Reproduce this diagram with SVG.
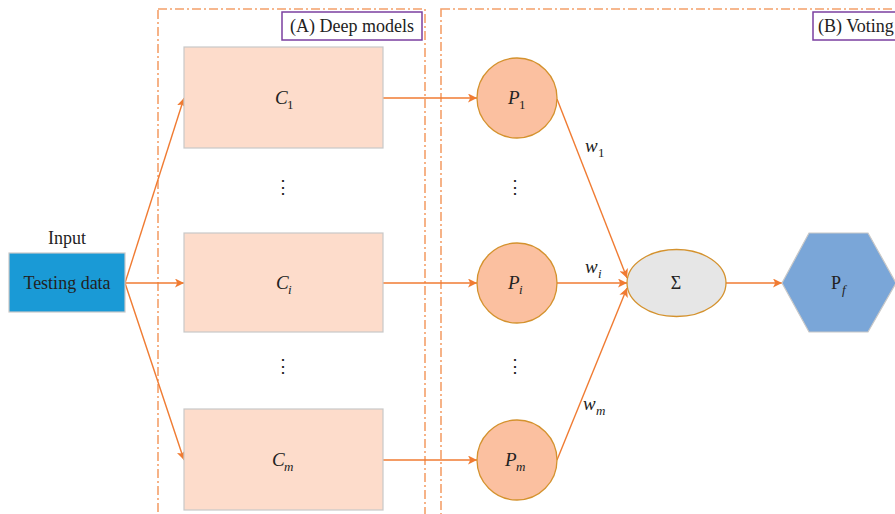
<svg xmlns="http://www.w3.org/2000/svg" width="895" height="514" viewBox="0 0 895 514">
<style>
text{font-family:"Liberation Serif","DejaVu Serif",serif;fill:#222;}
.t{font-size:18px;}
.v{font-size:19px;font-style:italic;}
.s{font-size:13px;font-style:italic;}
.su{font-size:13px;}
.frame{fill:none;stroke:#f4a06a;stroke-width:1.6;stroke-dasharray:9 3 2 3;}
.lab{fill:#fff;stroke:#7b3fa0;stroke-width:1.5;}
.c{fill:#fddccb;stroke:#c8c8c8;stroke-width:1.2;}
.p{fill:#fbc0a0;stroke:#d4922e;stroke-width:1.3;}
.e{stroke:#f07b32;stroke-width:1.4;fill:none;marker-end:url(#ah);}
</style>
<defs>
<marker id="ah" viewBox="0 0 10 10" refX="10" refY="5" markerWidth="9" markerHeight="9" markerUnits="userSpaceOnUse" orient="auto">
<path d="M0,0 L10,5 L0,10 L2.5,5 Z" fill="#f07b32"/>
</marker>
</defs>
<rect width="895" height="514" fill="#fff"/>
<g id="frames">
<rect class="frame" x="158" y="9" width="267" height="520"/>
<rect class="frame" x="441" y="9" width="470" height="520"/>
</g>
<g id="labelA"><rect class="lab" x="282" y="12" width="140" height="28"/><text class="t" x="352" y="32" text-anchor="middle">(A) Deep models</text></g>
<g id="labelB"><rect class="lab" x="813" y="12" width="100" height="28"/><text class="t" x="818" y="32">(B) Voting</text></g>
<g id="connectors">
<line class="e" x1="125" y1="283" x2="184" y2="98"/>
<line class="e" x1="125" y1="283" x2="184" y2="283"/>
<line class="e" x1="125" y1="283" x2="184" y2="460"/>
<line class="e" x1="383" y1="98" x2="477" y2="98"/>
<line class="e" x1="383" y1="283" x2="477" y2="283"/>
<line class="e" x1="383" y1="460" x2="477" y2="460"/>
<line class="e" x1="557" y1="99" x2="627" y2="278"/>
<line class="e" x1="557" y1="283" x2="627" y2="283"/>
<line class="e" x1="557" y1="460" x2="627" y2="288"/>
<line class="e" x1="726" y1="283" x2="782" y2="283"/>
</g>
<g id="input">
<text class="t" x="67" y="244" text-anchor="middle">Input</text>
<rect x="9" y="253" width="116" height="59" fill="#1a9ad6" stroke="#c8c8c8" stroke-width="1.2"/>
<text class="t" x="67" y="289" text-anchor="middle">Testing data</text>
</g>
<g id="C1"><rect class="c" x="184" y="47" width="199" height="101"/><text class="v" x="275" y="104">C</text><text class="su" x="287" y="109">1</text></g>
<g id="Ci"><rect class="c" x="184" y="233" width="199" height="99"/><text class="v" x="276" y="289">C</text><text class="s" x="288" y="294">i</text></g>
<g id="Cm"><rect class="c" x="184" y="409" width="199" height="101"/><text class="v" x="272" y="466">C</text><text class="s" x="284" y="471">m</text></g>
<g id="dots">
<text class="t" x="283" y="193" text-anchor="middle">⋮</text>
<text class="t" x="283" y="372" text-anchor="middle">⋮</text>
<text class="t" x="515" y="193" text-anchor="middle">⋮</text>
<text class="t" x="515" y="372" text-anchor="middle">⋮</text>
</g>
<g id="P1"><circle class="p" cx="517" cy="98" r="40"/><text class="v" x="508" y="104">P</text><text class="su" x="519" y="109">1</text></g>
<g id="Pi"><circle class="p" cx="517" cy="283" r="40"/><text class="v" x="508" y="289">P</text><text class="s" x="519" y="294">i</text></g>
<g id="Pm"><circle class="p" cx="517" cy="460" r="40"/><text class="v" x="505" y="466">P</text><text class="s" x="516" y="471">m</text></g>
<g id="weights">
<text class="v" x="585" y="152">w</text><text class="su" x="598" y="157">1</text>
<text class="v" x="585" y="273">w</text><text class="s" x="598" y="278">i</text>
<text class="v" x="583" y="410">w</text><text class="s" x="596" y="415">m</text>
</g>
<g id="sum"><ellipse cx="676.5" cy="283" rx="49.5" ry="33.5" fill="#e6e6e6" stroke="#d4922e" stroke-width="1.3"/><text class="t" x="676" y="289" text-anchor="middle">Σ</text></g>
<g id="Pf"><polygon points="782,283 809,233 868,233 896,283 868,332 809,332" fill="#7aa6d8" stroke="#c8c8c8" stroke-width="1.2"/><text class="t" x="831" y="289">P</text><text class="s" x="842" y="294">f</text></g>
</svg>
